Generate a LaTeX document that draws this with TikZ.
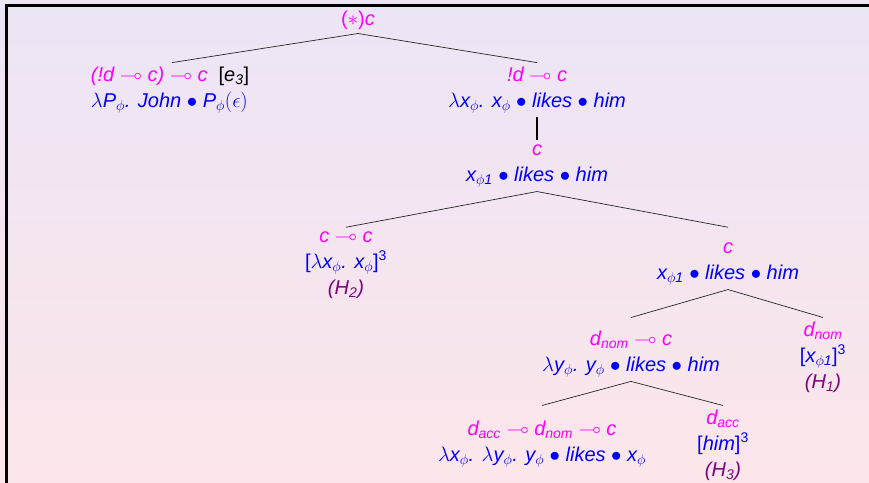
\documentclass[tikz,border=0pt]{standalone}
\usepackage{amsmath,amssymb}
\usepackage{fontspec}
\setmainfont{Liberation Sans}
\definecolor{tyc}{RGB}{255,0,255}
\definecolor{tmc}{RGB}{0,0,255}
\definecolor{tpc}{RGB}{128,0,128}
\definecolor{bgtop}{RGB}{236,229,246}
\definecolor{bgbot}{RGB}{252,230,234}
\newcommand\TY[1]{\textcolor{tyc}{#1}}
\newcommand\TM[1]{\textcolor{tmc}{#1}}
\newcommand\TP[1]{\textcolor{tpc}{#1}}
\newcommand\lo{$\multimap$}
\begin{document}
\begin{tikzpicture}[x=1pt,y=-1pt,
  tn/.style={align=center, inner xsep=0pt, inner ysep=4pt, font=\fontsize{20}{26}\selectfont\itshape},
  edge/.style={line width=0.7pt, draw=black!85},
  vline/.style={line width=2pt, draw=black}]
\useasboundingbox (0,0) rectangle (869,482);
\foreach \i in {0,...,96} {
  \pgfmathtruncatemacro\p{100-\i*100/96}
  \fill[bgtop!\p!bgbot] (0,\i*5) rectangle (869,\i*5+5.6);
}
\draw[line width=2.5pt] (6.5,485) -- (6.5,5.5) -- (869,5.5);

\node[tn] (root) at (358,20) {\TY{{\upshape(}$\ast${\upshape)}c}};
\node[tn, align=left] (l1) at (170,90) {\TY{(!d \lo{} c) \lo{} c}\hspace{11pt}{\upshape[}e$_\text{3}${\upshape]}\\ \TM{$\lambda$P$_\phi$. John $\bullet$ P$_\phi(\epsilon)$}};
\node[tn] (r1) at (537,90) {\TY{!d \lo{} c}\\ \TM{$\lambda$x$_\phi$. x$_\phi$ $\bullet$ likes $\bullet$ him}};
\node[tn] (c1) at (537,166) {\TY{c}\\ \TM{x$_{\phi\text{1}}$ $\bullet$ likes $\bullet$ him}};
\node[tn] (h2) at (346,265) {\TY{c \lo{} c}\\ \TM{{\upshape[}$\lambda$x$_\phi$. x$_\phi${\upshape]}$^\text{\upshape 3}$}\\ \TP{(H$_\text{2}$)}};
\node[tn] (c2) at (728,264) {\TY{c}\\ \TM{x$_{\phi\text{1}}$ $\bullet$ likes $\bullet$ him}};
\node[tn] (d1) at (631,354) {\TY{d$_\text{nom}$ \lo{} c}\\ \TM{$\lambda$y$_\phi$. y$_\phi$ $\bullet$ likes $\bullet$ him}};
\node[tn] (h1) at (823,357) {\TY{d$_\text{nom}$}\\ \TM{{\upshape[}x$_{\phi\text{1}}${\upshape]}$^\text{\upshape 3}$}\\ \TP{(H$_\text{1}$)}};
\node[tn] (d2) at (542,444) {\TY{d$_\text{acc}$ \lo{} d$_\text{nom}$ \lo{} c}\\ \TM{$\lambda$x$_\phi$. $\lambda$y$_\phi$. y$_\phi$ $\bullet$ likes $\bullet$ x$_\phi$}};
\node[tn] (h3) at (723,445) {\TY{d$_\text{acc}$}\\ \TM{{\upshape[}him{\upshape]}$^\text{\upshape 3}$}\\ \TP{(H$_\text{3}$)}};

\draw[edge] (root.south) -- ([xshift=2pt]l1.north);
\draw[edge] (root.south) -- (r1.north);
\draw[vline] (r1.south) -- (c1.north);
\draw[edge] (c1.south) -- (h2.north);
\draw[edge] (c1.south) -- (c2.north |- h2.north);
\draw[edge] (c2.south) -- (d1.north |- h1.north);
\draw[edge] (c2.south) -- (h1.north);
\draw[edge] (d1.south) -- (d2.north |- h3.north);
\draw[edge] (d1.south) -- (h3.north);
\end{tikzpicture}
\end{document}
